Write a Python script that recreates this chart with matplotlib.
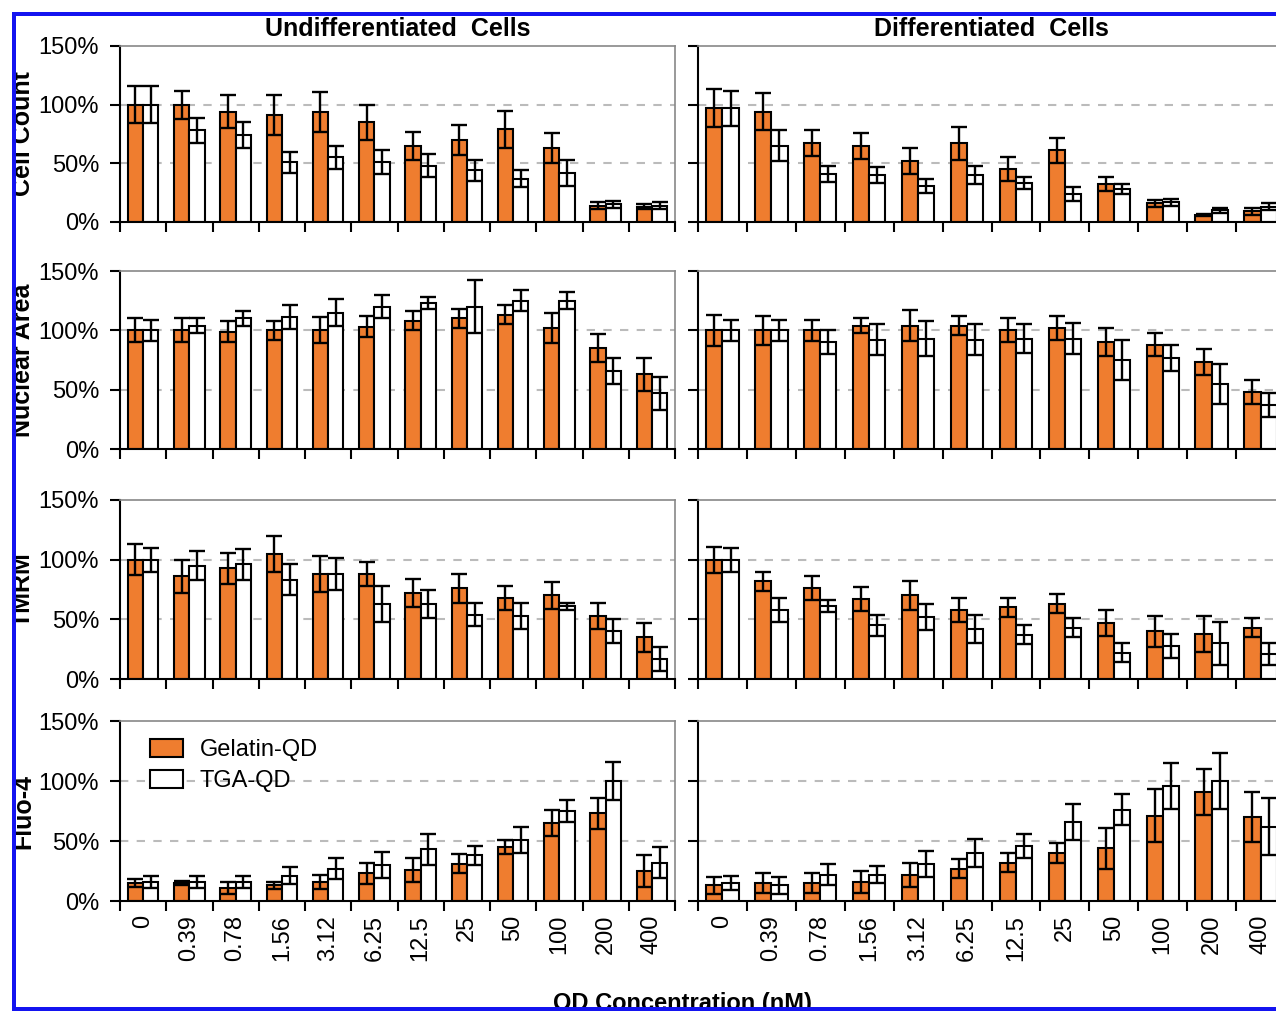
import matplotlib
matplotlib.use("Agg")
import matplotlib.pyplot as plt
from matplotlib.patches import Rectangle, Patch
import numpy as np

plt.rcParams['font.family'] = ['Liberation Sans', 'DejaVu Sans']

conc = ['0', '0.39', '0.78', '1.56', '3.12', '6.25', '12.5', '25', '50', '100', '200', '400']
rows = ['Cell Count', 'Nuclear Area', 'TMRM', 'Fluo-4']
cols = ['Undifferentiated  Cells', 'Differentiated  Cells']

# Undifferentiated cells: Gelatin-QD mean / err, TGA-QD mean / err (%)
und_gel = [
    [100, 100, 94, 91, 94, 85, 65, 70, 79, 63, 14, 13],
    [100, 100, 99, 100, 100, 103, 108, 110, 113, 102, 85, 63],
    [100, 86, 93, 105, 88, 88, 72, 76, 68, 70, 53, 35],
    [15, 15, 11, 13, 16, 23, 26, 31, 45, 65, 73, 25],
]
und_gel_err = [
    [16, 12, 14, 17, 17, 15, 12, 13, 16, 13, 3, 2],
    [10, 10, 9, 8, 11, 9, 8, 8, 8, 13, 12, 14],
    [13, 14, 13, 15, 15, 10, 12, 12, 10, 11, 11, 12],
    [3, 2, 5, 3, 6, 9, 10, 8, 6, 11, 13, 13],
]
und_tga = [
    [100, 78, 74, 51, 55, 51, 48, 44, 37, 42, 15, 14],
    [100, 104, 110, 111, 115, 120, 123, 120, 125, 125, 66, 47],
    [100, 95, 96, 83, 88, 63, 63, 54, 53, 61, 40, 17],
    [16, 16, 16, 21, 27, 30, 43, 38, 51, 75, 100, 32],
]
und_tga_err = [
    [16, 11, 11, 9, 10, 10, 10, 9, 7, 11, 3, 3],
    [9, 6, 6, 10, 11, 10, 5, 22, 9, 7, 11, 14],
    [10, 12, 13, 13, 13, 15, 12, 10, 11, 3, 10, 10],
    [5, 5, 5, 7, 9, 11, 13, 8, 11, 9, 16, 13],
]

# Differentiated cells
dif_gel = [
    [97, 94, 67, 65, 52, 67, 45, 61, 32, 16, 6, 9],
    [100, 100, 100, 104, 104, 104, 100, 102, 90, 88, 73, 48],
    [100, 82, 76, 67, 70, 58, 60, 63, 47, 40, 38, 43],
    [13, 15, 15, 16, 22, 27, 32, 40, 44, 71, 91, 70],
]
dif_gel_err = [
    [16, 16, 11, 11, 11, 14, 10, 11, 6, 3, 1, 3],
    [13, 12, 9, 6, 13, 8, 10, 10, 12, 10, 11, 10],
    [11, 8, 10, 10, 12, 10, 8, 8, 11, 13, 15, 8],
    [7, 8, 8, 9, 10, 8, 8, 8, 17, 22, 19, 21],
]
dif_tga = [
    [97, 65, 41, 40, 31, 40, 33, 24, 28, 17, 10, 13],
    [100, 100, 90, 92, 93, 92, 93, 93, 75, 77, 55, 37],
    [100, 58, 61, 45, 52, 42, 37, 43, 22, 28, 30, 21],
    [15, 13, 22, 22, 31, 40, 46, 66, 76, 96, 100, 62],
]
dif_tga_err = [
    [15, 13, 7, 7, 6, 8, 5, 6, 4, 3, 2, 3],
    [9, 9, 10, 13, 15, 13, 12, 13, 17, 11, 17, 10],
    [10, 10, 5, 9, 11, 12, 8, 8, 8, 10, 18, 9],
    [6, 7, 9, 7, 11, 12, 10, 15, 13, 19, 23, 24],
]

orange = '#EF7D2F'
W, H = 1276, 1013
fig = plt.figure(figsize=(W / 100, H / 100), dpi=100)

row_px = [(46, 222), (271, 449), (500, 679), (721, 901)]
col_px = [(120, 675), (698, 1285)]
data = [(und_gel, und_gel_err, und_tga, und_tga_err),
        (dif_gel, dif_gel_err, dif_tga, dif_tga_err)]

x = np.arange(len(conc))
bw = 0.33
for c in range(2):
    gel, gel_e, tga, tga_e = data[c]
    for r in range(4):
        x0, x1 = col_px[c]
        y0, y1 = row_px[r]
        ax = fig.add_axes([x0 / W, 1 - y1 / H, (x1 - x0) / W, (y1 - y0) / H])
        for yv in (50, 100):
            ax.axhline(yv, color='#bbbbbb', lw=1.5, dashes=(4, 4), zorder=0)
        ax.bar(x - bw / 2, gel[r], bw, color=orange, edgecolor='black', lw=1.5, zorder=2)
        ax.bar(x + bw / 2, tga[r], bw, color='white', edgecolor='black', lw=1.5, zorder=2)
        ax.errorbar(x - bw / 2, gel[r], yerr=gel_e[r], fmt='none', ecolor='black',
                    elinewidth=1.7, capsize=5.5, capthick=1.7, zorder=3)
        ax.errorbar(x + bw / 2, tga[r], yerr=tga_e[r], fmt='none', ecolor='black',
                    elinewidth=1.7, capsize=5.5, capthick=1.7, zorder=3)
        ax.set_xlim(-0.5, 11.5)
        ax.set_ylim(0, 150)
        ax.set_yticks([0, 50, 100, 150])
        if c == 0:
            ax.set_yticklabels(['0%', '50%', '100%', '150%'], fontsize=17)
        else:
            ax.set_yticklabels([])
        ax.set_xticks(np.arange(-0.5, 12, 1))
        ax.set_xticklabels([])
        ax.tick_params(axis='both', which='major', direction='out', length=7, width=1.5)
        ax.tick_params(axis='y', pad=8)
        if r == 3:
            ax.set_xticks(x, minor=True)
            ax.set_xticklabels(conc, minor=True, rotation=90, fontsize=17, va='top')
            ax.tick_params(axis='x', which='minor', length=0, pad=10)
        for s in ('top', 'right'):
            ax.spines[s].set_color('#888888')
            ax.spines[s].set_linewidth(1.2)
        for s in ('left', 'bottom'):
            ax.spines[s].set_linewidth(1.5)
        if r == 0:
            ax.set_title(cols[c], fontsize=18, fontweight='bold', pad=7)
        if c == 0:
            fig.text(35 / W, 1 - ((y0 + y1) / 2) / H, rows[r], rotation=90, ha='right',
                     va='center', fontsize=18, fontweight='bold')
        if c == 0 and r == 3:
            handles = [Patch(facecolor=orange, edgecolor='black', lw=1.5),
                       Patch(facecolor='white', edgecolor='black', lw=1.5)]
            ax.legend(handles, ['Gelatin-QD', 'TGA-QD'], loc='upper left',
                      bbox_to_anchor=(0.054, 0.90), frameon=False, fontsize=17,
                      handlelength=1.4, handleheight=0.8, borderpad=0, borderaxespad=0,
                      labelspacing=0.35, handletextpad=0.7)

fig.text(682 / W, 1 - 1003 / H, 'QD Concentration (nM)', ha='center', va='center',
         fontsize=17, fontweight='bold')

# white margin and blue frame around the picture
blue = '#1414F0'
for rect in [(0, 0, 12, H), (0, 0, W, 12), (0, 1009, W, 10)]:
    fig.add_artist(Rectangle((rect[0] / W, 1 - (rect[1] + rect[3]) / H), rect[2] / W, rect[3] / H,
                             transform=fig.transFigure, facecolor='white', edgecolor='none',
                             zorder=10))
for rect in [(12, 12, 4, 998), (12, 12, W, 4), (12, 1007, W, 4)]:
    fig.add_artist(Rectangle((rect[0] / W, 1 - (rect[1] + rect[3]) / H), rect[2] / W, rect[3] / H,
                             transform=fig.transFigure, facecolor=blue, edgecolor='none',
                             zorder=11))

fig.savefig('out.png', dpi=100)
